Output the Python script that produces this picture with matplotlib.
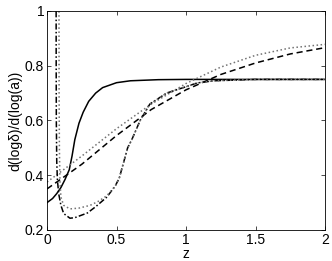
import matplotlib
matplotlib.use('Agg')
import matplotlib.pyplot as plt

plt.rcParams['font.family'] = ['Liberation Sans', 'DejaVu Sans']
plt.rcParams['font.size'] = 9

# solid curve
z_solid = [0, 0.04, 0.07, 0.1, 0.13, 0.16, 0.18, 0.2, 0.23, 0.26, 0.3, 0.35, 0.4, 0.5, 0.6, 0.8, 1.0, 1.5, 2.0]
v_solid = [0.30, 0.315, 0.333, 0.355, 0.385, 0.42, 0.47, 0.53, 0.59, 0.63, 0.67, 0.70, 0.72, 0.738, 0.745, 0.749, 0.75, 0.75, 0.75]

# dashed curve
z_dash = [0, 0.25, 0.5, 0.75, 1.0, 1.25, 1.5, 1.75, 2.0]
v_dash = [0.35, 0.44, 0.545, 0.64, 0.712, 0.768, 0.81, 0.843, 0.866]

# dotted curve (upper)
z_dot = [0, 0.25, 0.5, 0.75, 1.0, 1.25, 1.5, 1.75, 2.0]
v_dot = [0.375, 0.47, 0.57, 0.66, 0.735, 0.795, 0.838, 0.865, 0.878]

# dash-dot curve with pole near z=0.065
z_dd = [0.0655, 0.066, 0.067, 0.07, 0.075, 0.085, 0.1, 0.12, 0.165, 0.2, 0.29, 0.35, 0.43, 0.49,
        0.52, 0.55, 0.58, 0.61, 0.67, 0.74, 0.86, 0.98, 1.08, 1.2, 1.5, 2.0]
v_dd = [1.05, 0.8, 0.6, 0.45, 0.38, 0.33, 0.29, 0.26, 0.243, 0.245, 0.262, 0.285, 0.32, 0.36,
        0.39, 0.445, 0.50, 0.53, 0.60, 0.66, 0.70, 0.72, 0.737, 0.745, 0.75, 0.75]

# dotted curve with pole near z=0.086
z_dd2 = [0.086, 0.087, 0.089, 0.093, 0.1, 0.12, 0.165, 0.23, 0.31, 0.37, 0.43, 0.49,
         0.52, 0.55, 0.58, 0.61, 0.67, 0.74, 0.86, 0.98, 1.08, 1.2, 1.5, 2.0]
v_dd2 = [1.05, 0.7, 0.5, 0.38, 0.32, 0.29, 0.277, 0.28, 0.29, 0.305, 0.325, 0.36,
         0.39, 0.445, 0.50, 0.53, 0.60, 0.66, 0.70, 0.72, 0.737, 0.745, 0.75, 0.75]

fig = plt.figure(figsize=(3.32, 2.61), dpi=100)
ax = fig.add_axes([0.1416, 0.1188, 0.8374, 0.8392])

lw = 1.1
ax.plot(z_solid, v_solid, color='black', linestyle='-', linewidth=lw)
ax.plot(z_dash, v_dash, color='black', linestyle='--', linewidth=lw, dashes=(4, 2.5))
ax.plot(z_dot, v_dot, color='0.45', linestyle=':', linewidth=lw)
ax.plot(z_dd, v_dd, color='black', linestyle='-.', linewidth=lw, dashes=(4, 1.5, 1, 1.5))
ax.plot(z_dd2, v_dd2, color='0.45', linestyle=':', linewidth=lw)

ax.set_xlim(0, 2)
ax.set_ylim(0.2, 1)
ax.set_xticks([0, 0.5, 1, 1.5, 2])
ax.set_xticklabels(['0', '0.5', '1', '1.5', '2'])
ax.set_yticks([0.2, 0.4, 0.6, 0.8, 1])
ax.set_yticklabels(['0.2', '0.4', '0.6', '0.8', '1'])
ax.tick_params(direction='in', top=True, right=True, length=3, width=0.5, pad=2, labelsize=10)
for s in ax.spines.values():
    s.set_linewidth(0.6)

ax.set_xlabel('z', fontsize=10, labelpad=0)
ax.set_ylabel('d(logδ)/d(log(a))', fontsize=10, labelpad=2)

fig.savefig('out.png', dpi=100)
